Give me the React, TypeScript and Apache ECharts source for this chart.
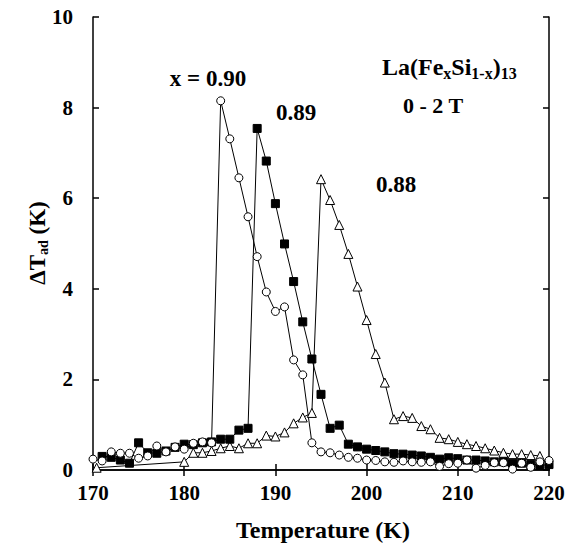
import React, { useEffect, useRef } from "react";
import * as echarts from "echarts";

// x = 0.90 (open circles)
const tempX090 = [170, 171, 172, 173, 174, 175, 176, 177, 178, 179, 180, 181, 182, 183, 184, 185, 186, 187, 188, 189, 190, 191, 192, 193, 194, 195, 196, 197, 198, 199, 200, 201, 202, 203, 204, 205, 206, 207, 208, 209, 210, 211, 212, 213, 214, 215, 216, 217, 218, 219, 220];
const dTX090 = [0.24, 0.2, 0.4, 0.37, 0.37, 0.26, 0.31, 0.53, 0.4, 0.51, 0.46, 0.59, 0.62, 0.6, 8.15, 7.31, 6.45, 5.59, 4.71, 3.93, 3.5, 3.6, 2.43, 2.1, 0.6, 0.4, 0.38, 0.33, 0.28, 0.26, 0.22, 0.21, 0.18, 0.17, 0.2, 0.18, 0.17, 0.18, 0.08, 0.14, 0.15, 0.22, 0.04, 0.1, 0.16, 0.16, 0.02, 0.15, 0.06, 0.18, 0.21];

// x = 0.89 (filled squares)
const tempX089 = [171, 172, 173, 174, 175, 176, 177, 178, 179, 180, 181, 182, 183, 184, 185, 186, 187, 188, 189, 190, 191, 192, 193, 194, 195, 196, 197, 198, 199, 200, 201, 202, 203, 204, 205, 206, 207, 208, 209, 210, 211, 212, 213, 214, 215, 216, 217, 218, 219, 220];
const dTX089 = [0.3, 0.28, 0.22, 0.15, 0.6, 0.38, 0.37, 0.42, 0.5, 0.57, 0.56, 0.6, 0.62, 0.68, 0.68, 0.88, 0.92, 7.54, 6.82, 5.88, 4.99, 4.16, 3.27, 2.45, 1.67, 0.92, 0.99, 0.57, 0.51, 0.46, 0.43, 0.4, 0.36, 0.35, 0.33, 0.31, 0.28, 0.24, 0.27, 0.25, 0.22, 0.22, 0.2, 0.18, 0.18, 0.15, 0.15, 0.12, 0.1, 0.12];

// x = 0.88 (open triangles)
const tempX088 = [170.4, 180, 181, 182, 183, 184, 185, 186, 187, 188, 189, 190, 191, 192, 193, 194, 195, 196, 197, 198, 199, 200, 201, 202, 203, 204, 205, 206, 207, 208, 209, 210, 211, 212, 213, 214, 215, 216, 217, 218, 219];
const dTX088 = [0.05, 0.18, 0.38, 0.38, 0.42, 0.48, 0.53, 0.48, 0.59, 0.59, 0.76, 0.74, 0.83, 1.03, 1.16, 1.26, 6.42, 5.96, 5.41, 4.77, 4.05, 3.31, 2.56, 1.93, 1.12, 1.19, 1.15, 0.97, 0.9, 0.71, 0.68, 0.62, 0.57, 0.53, 0.48, 0.43, 0.38, 0.35, 0.35, 0.33, 0.31];

const xTicks = [170, 180, 190, 200, 210, 220];
const yTicks = [0, 2, 4, 6, 8, 10];

const FONT = "Times New Roman, Liberation Serif, DejaVu Serif, serif";

export default function App() {
  const ref = useRef<HTMLDivElement>(null);
  useEffect(() => {
    if (!ref.current) return;
    const chart = echarts.init(ref.current, null, { renderer: "svg" });
    const pair = (xs: number[], ys: number[]) => xs.map((x, i) => [x, ys[i]]);
    const axisLine = { show: true, lineStyle: { color: "#000", width: 1.5 } };
    const tick = { show: true, inside: true, length: 6, lineStyle: { color: "#000", width: 1.5 } };
    const lbl = { color: "#000", fontFamily: FONT, fontWeight: "bold" as const, fontSize: 21 };
    const txt = { fontFamily: FONT, fontWeight: "bold" as const, fontSize: 23, fill: "#000" };
    chart.setOption({
      animation: false,
      backgroundColor: "#fff",
      textStyle: { fontFamily: FONT },
      grid: { left: 93, right: 26, top: 17, bottom: 82, containLabel: false },
      xAxis: [
        {
          type: "value", min: xTicks[0], max: xTicks[xTicks.length - 1], interval: 10,
          axisLine, axisTick: tick, splitLine: { show: false },
          axisLabel: { ...lbl, margin: 12 },
        },
        {
          type: "value", position: "top", min: xTicks[0], max: xTicks[xTicks.length - 1], interval: 10,
          axisLine, axisTick: tick, splitLine: { show: false }, axisLabel: { show: false },
        },
      ],
      yAxis: [
        {
          type: "value", min: yTicks[0], max: yTicks[yTicks.length - 1], interval: 2,
          axisLine, axisTick: tick, splitLine: { show: false },
          axisLabel: { ...lbl, margin: 20 },
        },
        {
          type: "value", position: "right", min: yTicks[0], max: yTicks[yTicks.length - 1], interval: 2,
          axisLine, axisTick: tick, splitLine: { show: false }, axisLabel: { show: false },
        },
      ],
      series: [
        {
          type: "line", name: "0.88", data: pair(tempX088, dTX088),
          symbol: "triangle", symbolSize: 9, showAllSymbol: true,
          lineStyle: { color: "#000", width: 1 },
          itemStyle: { color: "#fff", borderColor: "#000", borderWidth: 1 },
        },
        {
          type: "line", name: "0.89", data: pair(tempX089, dTX089),
          symbol: "rect", symbolSize: 8, showAllSymbol: true,
          lineStyle: { color: "#000", width: 1 },
          itemStyle: { color: "#000", borderColor: "#000", borderWidth: 1 },
        },
        {
          type: "line", name: "0.90", data: pair(tempX090, dTX090),
          symbol: "circle", symbolSize: 8, showAllSymbol: true,
          lineStyle: { color: "#000", width: 1 },
          itemStyle: { color: "#fff", borderColor: "#000", borderWidth: 1 },
        },
      ],
      graphic: [
        { type: "text", x: 208, y: 78, style: { text: "x = 0.90", ...txt, align: "center", verticalAlign: "middle" } },
        { type: "text", x: 296, y: 112, style: { text: "0.89", ...txt, align: "center", verticalAlign: "middle" } },
        { type: "text", x: 396, y: 184, style: { text: "0.88", ...txt, align: "center", verticalAlign: "middle" } },
        {
          type: "text", x: 382, y: 67,
          style: {
            text: "{m|La(Fe}{s|x}{m|Si}{s|1-x}{m|)}{s|13}",
            ...txt, align: "left", verticalAlign: "middle",
            rich: {
              m: { fontFamily: FONT, fontWeight: "bold", fontSize: 24, fill: "#000" },
              s: { fontFamily: FONT, fontWeight: "bold", fontSize: 16, fill: "#000", padding: [13, 0, 0, 0] },
            },
          },
        },
        { type: "text", x: 433, y: 105, style: { text: "0 - 2 T", ...txt, fontSize: 22, align: "center", verticalAlign: "middle" } },
        {
          type: "text", x: 37, y: 243, rotation: Math.PI / 2,
          style: {
            text: "{m|ΔT}{s|ad}{m| (K)}",
            ...txt, align: "center", verticalAlign: "middle",
            rich: {
              m: { fontFamily: FONT, fontWeight: "bold", fontSize: 23, fill: "#000" },
              s: { fontFamily: FONT, fontWeight: "bold", fontSize: 14, fill: "#000", padding: [13, 0, 0, 0] },
            },
          },
        },
        { type: "text", x: 323, y: 530, style: { text: "Temperature (K)", ...txt, fontSize: 24, align: "center", verticalAlign: "middle" } },
      ],
    });
    return () => chart.dispose();
  }, []);
  return <div ref={ref} style={{ position: "fixed", left: 0, top: 0, width: 575, height: 552 }} />;
}
